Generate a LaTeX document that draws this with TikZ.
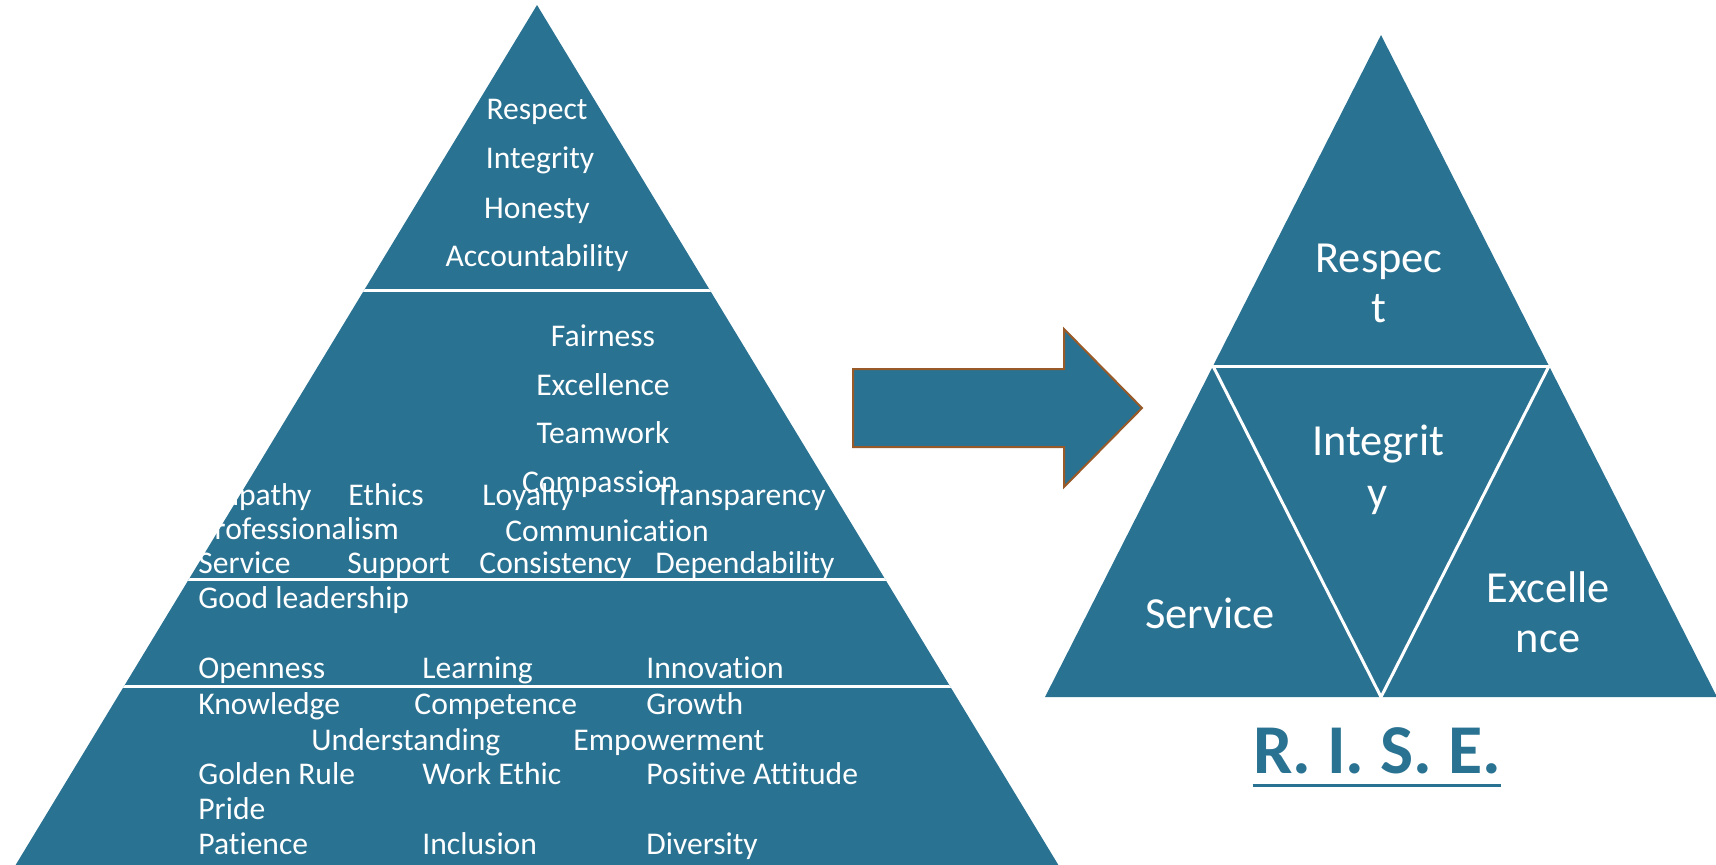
\documentclass[tikz,border=0pt]{standalone}
\usepackage{fontspec}
\setmainfont{Carlito}[Ligatures={NoCommon}]
\definecolor{pblue}{RGB}{42,114,145}
\definecolor{abrown}{RGB}{152,90,40}
\begin{document}
\begin{tikzpicture}[x=0.5pt,y=-0.5pt,
  lt/.style={text=white,font=\fontsize{15.8}{19}\selectfont,inner sep=0pt,anchor=base west},
  ct/.style={lt,anchor=base},
  rt/.style={text=white,font=\fontsize{22.2}{26}\selectfont,inner sep=0pt,anchor=base},
  sep/.style={white,line width=1.5pt}]
\useasboundingbox (0,0) rectangle (1716,864);
% left pyramid
\coordinate (LA) at (537,5);
\coordinate (LB) at (15,866);
\coordinate (LC) at (1059,866);
\fill[pblue] (LA)--(LB)--(LC)--cycle;
\begin{scope}
\clip (LA)--(LB)--(LC)--cycle;
\draw[sep] (0,290)--(1100,290);
\draw[sep] (0,579)--(1100,579);
\draw[sep] (0,686)--(1100,686);
\end{scope}
% tier 1
\node[ct] (a1) at (537,119) {Respect};
\node[ct] (a2) at (540,168) {Integrity};
\node[ct] (a3) at (537,218) {Honesty};
\node[ct] (a4) at (537,266) {Accountability};
% tier 2
\node[ct] (b1) at (603,346) {Fairness};
\node[ct] (b2) at (603,395) {Excellence};
\node[ct] (b3) at (603,443) {Teamwork};
\node[ct] (b4) at (600,492) {Compassion};
\node[lt] (b5) at (198,505) {Empathy};
\node[lt] (b6) at (348,505) {Ethics};
\node[lt] (b7) at (482,505) {Loyalty};
\node[lt] (b8) at (655,505) {Transparency};
\node[lt] (b9) at (198,539) {Professionalism};
\node[ct] (b10) at (607,541) {Communication};
\node[lt] (b11) at (198,573) {Service};
\node[lt] (b12) at (347,573) {Support};
\node[lt] (b13) at (479,573) {Consistency};
\node[lt] (b14) at (655,573) {Dependability};
% tier 3
\node[lt] (c1) at (198,608) {Good leadership};
\node[lt] (c2) at (198,678) {Openness};
\node[lt] (c3) at (422,678) {Learning};
\node[lt] (c4) at (646,678) {Innovation};
% tier 4
\node[lt] (d1) at (198,714) {Knowledge};
\node[lt] (d2) at (414,714) {Competence};
\node[lt] (d3) at (646,714) {Growth};
\node[lt] (d4) at (311,750) {Understanding};
\node[lt] (d5) at (573,750) {Empowerment};
\node[lt] (d6) at (198,784) {Golden Rule};
\node[lt] (d7) at (422,784) {Work Ethic};
\node[lt] (d8) at (646,784) {Positive Attitude};
\node[lt] (d9) at (198,819) {Pride};
\node[lt] (d10) at (198,854) {Patience};
\node[lt] (d11) at (422,854) {Inclusion};
\node[lt] (d12) at (646,854) {Diversity};
% arrow
\filldraw[fill=pblue,draw=abrown,line width=1pt,line join=miter]
  (853,369)--(1064,369)--(1064,329)--(1142,408)--(1064,487)--(1064,447)--(853,447)--cycle;
% right triangle
\coordinate (RA) at (1381,35);
\coordinate (RL) at (1045,697);
\coordinate (RR) at (1717,697);
\coordinate (ML) at (1213,366);
\coordinate (MR) at (1549,366);
\coordinate (MB) at (1381,697);
\fill[pblue] (RA)--(RL)--(RR)--cycle;
\draw[sep] (ML)--(MR);
\draw[sep] (ML)--(MB)--(MR);
\node[rt] (r1) at (1379,272) {Respec};
\node[rt] (r2) at (1379,322) {t};
\node[rt] (i1) at (1378,455) {Integrit};
\node[rt] (i2) at (1378,507) {y};
\node[rt] (s1) at (1210,628) {Service};
\node[rt] (e1) at (1548,602) {Excelle};
\node[rt] (e2) at (1548,652) {nce};
\node[anchor=base,inner sep=0pt,text=pblue,font=\fontsize{35}{40}\selectfont\bfseries] (rise) at (1377,773) {R. I. S. E.};
\draw[pblue,line width=1.5pt] ([yshift=-6pt]rise.base west)--([yshift=-6pt]rise.base east);
\end{tikzpicture}
\end{document}
